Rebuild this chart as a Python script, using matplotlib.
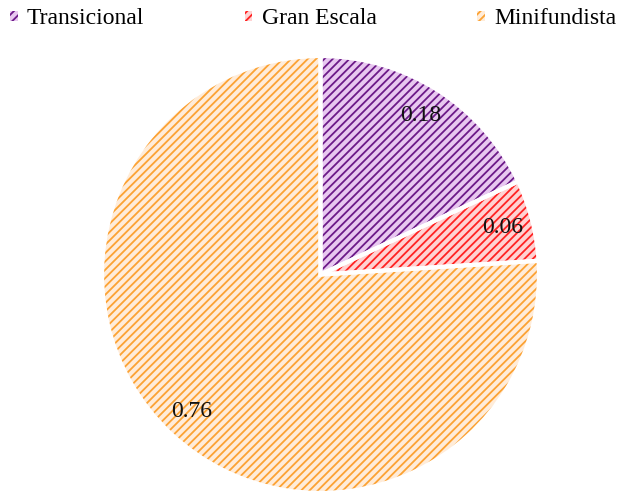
import matplotlib
matplotlib.use("Agg")
import matplotlib.pyplot as plt
from matplotlib.patches import Patch

categories = ["Transicional", "Gran Escala", "Minifundista"]
values = [0.18, 0.06, 0.76]
fill_colors = ["#e8c8f0", "#ffd2d2", "#ffecd9"]
hatch_colors = ["#6c1a88", "#ff2222", "#fca233"]

plt.rcParams["font.family"] = ["Liberation Serif", "DejaVu Serif"]
plt.rcParams["hatch.linewidth"] = 1.3

fig = plt.figure(figsize=(6.18, 4.92), dpi=100)
ax = fig.add_axes([102 / 618, -1 / 492, 437 / 618, 437 / 492])

# layer 1: fills
ax.pie(values, colors=fill_colors, startangle=90, counterclock=False,
       wedgeprops=dict(linewidth=0, edgecolor="none"))
# layer 2: hatching
wedges2, _ = ax.pie(values, colors=["none"] * 3, startangle=90, counterclock=False,
                    wedgeprops=dict(linewidth=0))
for w, hc in zip(wedges2, hatch_colors):
    w.set_facecolor("none")
    w.set_edgecolor(hc)
    w.set_linewidth(0)
    w.set_hatch("////")
# layer 3: white borders + labels
ax.pie(values, colors=["none"] * 3, startangle=90, counterclock=False,
       autopct=lambda p: f"{p / 100:.2f}", pctdistance=0.86,
       textprops=dict(fontsize=17, color="#111111"),
       wedgeprops=dict(linewidth=3, edgecolor="white", facecolor="none"))
ax.set_xlim(-1, 1)
ax.set_ylim(-1, 1)
ax.set_aspect("equal")

handles = []
for c, fc, hc in zip(categories, fill_colors, hatch_colors):
    handles.append(Patch(facecolor=fc, edgecolor=hc, hatch="////", linewidth=0, label=c))

fig.legend(handles=handles, loc="center left", bbox_to_anchor=(10 / 618, 1 - 19 / 492),
           ncol=3, frameon=False, fontsize=17, handlelength=0.32, handleheight=0.32,
           handletextpad=0.4, columnspacing=4.25, borderpad=0, borderaxespad=0)

fig.savefig("out.png", dpi=100)
